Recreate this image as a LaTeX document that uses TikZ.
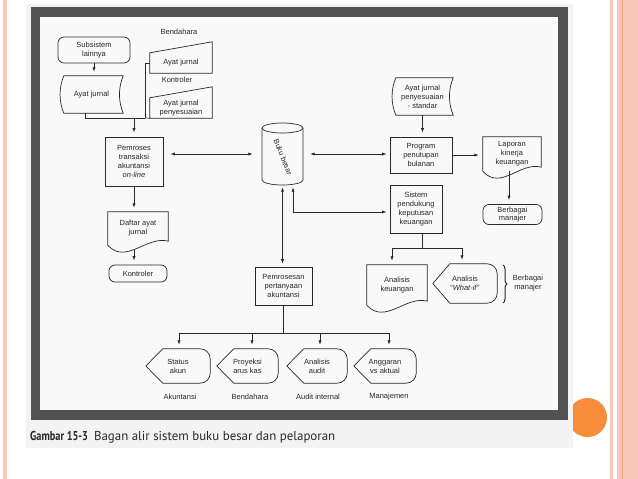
\documentclass[tikz,border=0pt]{standalone}
\usepackage{fontspec}
\setmainfont{Liberation Sans}
\newfontfamily\capfont{PT Sans}
\usetikzlibrary{arrows.meta,calc,decorations.pathreplacing}
\definecolor{salm}{RGB}{250,200,185}
\definecolor{salmd}{RGB}{238,160,135}
\definecolor{org}{RGB}{247,140,58}
\definecolor{paper}{RGB}{243,243,243}
\definecolor{innerc}{RGB}{249,249,249}
\definecolor{framec}{RGB}{82,82,82}
\definecolor{ink}{RGB}{40,40,40}
\newcommand{\docout}[1]{%
  \draw[ln] (#1.south west) -- (#1.north west) -- (#1.north east) -- ([shift={(0,-4)}]#1.south east)
  .. controls ($(#1.south west)!0.65!(#1.south east)+(0,-10)$) and ($(#1.south west)!0.3!(#1.south east)+(0,20)$) .. (#1.south west) -- cycle;}
\newcommand{\dispout}[1]{%
  \draw[ln] (#1.west) -- ([shift={(17,0)}]#1.north west) [rounded corners=10pt] -- (#1.north east) -- (#1.south east) [sharp corners] -- ([shift={(17,0)}]#1.south west) -- cycle;}
\newcommand{\manout}[2]{%
  \draw[ln] (#1.north west) -- ([shift={(0,-#2)}]#1.north east) -- (#1.south east) -- (#1.south west) -- cycle;}
\newcommand{\stoout}[1]{%
  \draw[ln] ([shift={(4,0)}]#1.north west) -- (#1.north east)
  .. controls ([shift={(-5,12)}]#1.north east) and ([shift={(-5,-12)}]#1.south east) .. (#1.south east)
  -- ([shift={(4,0)}]#1.south west)
  .. controls ([shift={(-1,-12)}]#1.south west) and ([shift={(-1,12)}]#1.north west) .. ([shift={(4,0)}]#1.north west) -- cycle;}
\begin{document}
\begin{tikzpicture}[x=1pt,y=-1pt,
  ln/.style={draw=ink, line width=0.7pt},
  arr/.style={ln, shorten >=4pt, -{Latex[length=4.5pt,width=3.2pt]}},
  dbl/.style={ln, {Latex[length=4.5pt,width=3.2pt]}-{Latex[length=4.5pt,width=3.2pt]}},
  txt/.style={font=\fontsize{7.5}{9}\selectfont, text=ink, align=center, inner sep=0pt},
  bx/.style 2 args={txt, minimum width=#1, minimum height=#2},
  procbox/.style 2 args={bx={#1}{#2}, ln},
  termbox/.style 2 args={bx={#1}{#2}, ln, rounded corners=6pt},
]
\useasboundingbox (0,0) rectangle (638,479);
% slide
\fill[white] (0,0) rectangle (638,479);
\fill[salm] (3,0) rectangle (7,479);
\fill[salm] (610,0) rectangle (613,479);
\fill[salm] (617,0) rectangle (638,479);
\fill[salmd] (622,0) rectangle (623.2,479);
\begin{scope}
  \clip (573,0) rectangle (638,479);
  \fill[org] (587.5,417.5) circle[radius=19.5];
\end{scope}
% scanned page
\fill[paper] (26,4) rectangle (573,448);
\fill[framec] (31,7) rectangle (568,420);
\fill[innerc] (40,17) rectangle (558,410);

% nodes
\node[txt] (lbend) at (179,32) {Bendahara};
\node[termbox={72pt}{26pt}] (sub) at (94,50) {Subsistem\\lainnya};
\node[bx={63pt}{37pt}] (aj1) at (91.5,94.5) {Ayat jurnal};
\stoout{aj1}
\node[bx={62pt}{20pt}] (mi1) at (181,63) {Ayat jurnal};
\manout{mi1}{11}
\node[txt] (lkont) at (177,80) {Kontroler};
\node[bx={62pt}{20pt}] (mi2) at (181,108) {Ayat jurnal\\penyesuaian};
\manout{mi2}{11}
\node[procbox={58pt}{49pt}] (pem) at (134,161.5) {Pemroses\\transaksi\\akuntansi\\\textit{on-line}};
\node[bx={60pt}{33pt}] (daf) at (138,228.5) {Daftar ayat\\jurnal};
\docout{daf}
\node[termbox={58pt}{17pt}] (kon) at (138,273.5) {Kontroler};

% ledger cylinder
\node[bx={41pt}{62pt}] (bb) at (282.5,154) {};
\draw[ln] (262,128) -- (262,180) arc[start angle=180,end angle=0,x radius=20.5,y radius=5] -- (303,128);
\draw[ln] (282.5,128) ellipse[x radius=20.5,y radius=5];
\node[txt, rotate=-68] (bbt) at (283,157) {Buku besar};

\node[bx={61pt}{37pt}] (ajs) at (422.5,96.5) {Ayat jurnal\\penyesuaian\\- standar};
\stoout{ajs}
\node[procbox={62pt}{36pt}] (prog) at (421,155) {Program\\penutupan\\bulanan};
\node[bx={58pt}{34pt}] (lap) at (512,154) {Laporan\\kinerja\\keuangan};
\docout{lap}
\node[termbox={59pt}{20pt}, font=\fontsize{7.5}{8}\selectfont] (bm) at (512.5,214.5) {Berbagai\\manajer};
\node[procbox={52pt}{48pt}] (sis) at (416,209) {Sistem\\pendukung\\keputusan\\keuangan};
\node[bx={60pt}{40pt}] (ak) at (397,285) {Analisis\\keuangan};
\docout{ak}
\node[bx={64pt}{39pt}] (wi) at (465,283.5) {Analisis\\``\textit{What-if}''};
\dispout{wi}
\draw[ink, line width=1pt, decorate, decoration={brace, amplitude=4pt}] (503,265) -- (503,303);
\node[txt] (lbm) at (528,283) {Berbagai\\manajer};
\node[procbox={57pt}{38pt}] (pp) at (283.5,286) {Pemrosesan\\pertanyaan\\akuntansi};

\node[bx={64pt}{34pt}] (d1) at (178,366) {Status\\akun};
\dispout{d1}
\node[bx={61pt}{34pt}] (d2) at (247.5,366) {Proyeksi\\arus kas};
\dispout{d2}
\node[bx={60pt}{34pt}] (d3) at (317,366) {Analisis\\audit};
\dispout{d3}
\node[bx={62pt}{34pt}] (d4) at (385,366) {Anggaran\\vs aktual};
\dispout{d4}
\node[txt] (l1) at (180,397) {Akuntansi};
\node[txt] (l2) at (250,397) {Bendahara};
\node[txt] (l3) at (318,397) {Audit internal};
\node[txt] (l4) at (389,397) {Manajemen};

% connectors
\draw[arr] (sub.south) -- (sub.south |- aj1.north);
\coordinate (jR) at (145,118);
\draw[ln] ([xshift=-6.5pt]aj1.south) |- (jR);
\draw[ln] (mi1.west) -| (jR);
\draw[ln] (mi2.south west) -- (jR);
\draw[arr] (pem.north |- jR) -- (pem.north);
\draw[arr] (pem.south) -- (pem.south |- daf.north);
\draw[arr] ($(pem.south |- daf.south)+(0,4.5)$) -- (pem.south |- kon.north);
\draw[dbl, shorten <=7pt, shorten >=9pt] (pem.east |- bb.west) -- (bb.west);
\draw[dbl, shorten <=7pt, shorten >=3pt] (bb.east) -- (bb.east -| prog.west);
\draw[arr] (ajs.south) -- (ajs.south |- prog.north);
\draw[arr] (prog.east) -- (prog.east -| lap.west);
\draw[arr] ([xshift=-3pt]lap.south) -- ([xshift=-3pt]lap.south |- bm.north);
\draw[dbl, shorten <=2pt, shorten >=3pt] (bb.south) -- (bb.south |- pp.north);
\draw[dbl, shorten <=2pt, shorten >=3pt] ([xshift=10.5pt]bb.south) |- ($(sis.west)+(0,3)$);
\coordinate (sj) at ($(sis.south)+(6,15)$);
\coordinate (sL) at (392,248);
\coordinate (sR) at (462,248);
\draw[ln] ([xshift=6pt]sis.south) -- (sj);
\draw[ln] (sL) -- (sR);
\draw[arr] (sL) -- (sL |- ak.north);
\draw[arr] (sR) -- (sR |- wi.north);
\coordinate (bus) at ($(pp.south)+(0,28)$);
\coordinate (b1) at (179,333);
\coordinate (b2) at (252,333);
\coordinate (b3) at (320,333);
\coordinate (b4) at (389,333);
\draw[ln] (pp.south) -- (bus);
\draw[ln] (b1) -- (b4);
\draw[arr] (b1) -- (b1 |- d1.north);
\draw[arr] (b2) -- (b2 |- d2.north);
\draw[arr] (b3) -- (b3 |- d3.north);
\draw[arr] (b4) -- (b4 |- d4.north);

% caption
\node[anchor=west, inner sep=0pt, text=ink, font=\capfont\fontsize{12.9}{14}\selectfont] (cap) at (30,437.5)
  {\scalebox{0.8}[1]{\textbf{Gambar 15-3}}\hspace{6pt}Bagan alir sistem buku besar dan pelaporan};
\end{tikzpicture}
\end{document}
